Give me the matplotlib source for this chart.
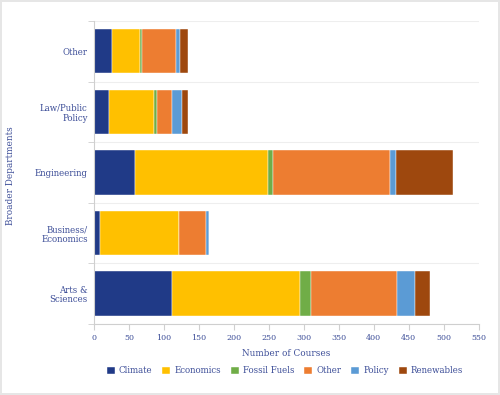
import numpy as np
from matplotlib import pyplot as plt

# departments, bottom to top
departments = ["Arts &\nSciences", "Business/\nEconomics", "Engineering", "Law/Public\nPolicy", "Other"]
topics = ["Climate", "Economics", "Fossil Fuels", "Other", "Policy", "Renewables"]
colors = ["#203A87", "#FFC000", "#70AD47", "#ED7D31", "#5B9BD5", "#9E480E"]

climate = [112, 8, 59, 21, 26]
economics = [182, 114, 190, 65, 40]
fossil = [17, 0, 7, 4, 3]
other = [123, 38, 167, 21, 48]
policy = [25, 5, 9, 15, 6]
renewables = [21, 0, 81, 9, 11]
series = [climate, economics, fossil, other, policy, renewables]

txt = "#3D4E98"
plt.rcParams['font.family'] = ['DejaVu Serif']

fig = plt.figure(figsize=(5, 3.95), dpi=100)
fig.patch.set_edgecolor("#e6e6e6")
fig.patch.set_linewidth(1.5)
ax = fig.add_axes([0.188, 0.18, 0.769, 0.767])

y = np.arange(len(departments))
left = np.zeros(len(departments))
for vals, name, c in zip(series, topics, colors):
    ax.barh(y, vals, left=left, height=0.73, color=c, label=name,
            edgecolor="white", linewidth=0.3)
    left += np.array(vals)

ax.set_xlim(0, 550)
ax.set_ylim(-0.5, len(departments) - 0.5)
ax.set_xticks(np.arange(0, 551, 50))
ax.set_yticks(y)
ax.set_yticklabels(departments, linespacing=1.1)
ax.set_yticks(np.arange(-0.5, len(departments), 1), minor=True)
ax.grid(axis="y", which="minor", color="#eeeeee", linewidth=0.8)
ax.set_axisbelow(True)

for s in ["top", "right"]:
    ax.spines[s].set_visible(False)
for s in ["left", "bottom"]:
    ax.spines[s].set_color("#cfcfcf")
ax.tick_params(axis="y", which="major", length=0, labelsize=6.2, labelcolor=txt, pad=4.5)
ax.tick_params(axis="y", which="minor", length=4, color="#cfcfcf")
ax.tick_params(axis="x", length=4, color="#cfcfcf", labelsize=5.8, labelcolor=txt, pad=3)

ax.set_xlabel("Number of Courses", color=txt, fontsize=6.4, labelpad=5)
ax.set_ylabel("Broader Departments", color=txt, fontsize=6.4)
ax.yaxis.set_label_coords(-0.205, 0.49)

fig.legend(*ax.get_legend_handles_labels(), loc="center", bbox_to_anchor=(0.57, 0.061),
           ncol=6, frameon=False, fontsize=6.2, labelcolor=txt, handlelength=0.9,
           handleheight=0.9, handletextpad=0.5, columnspacing=1.15)

plt.savefig("out.png", dpi=100)
